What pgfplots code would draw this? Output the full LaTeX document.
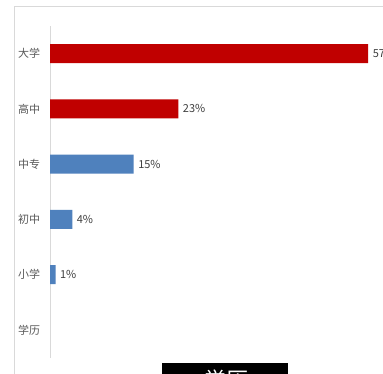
\documentclass[border=0pt]{standalone}
\usepackage{pgfplots}
\pgfplotsset{compat=1.18}
\usepackage{fontspec}
\setmainfont{Noto Sans CJK SC}
\definecolor{barred}{HTML}{C00000}
\definecolor{barblue}{HTML}{4F81BD}
\definecolor{tickgray}{HTML}{595959}
\definecolor{labgray}{HTML}{404040}
\definecolor{framegray}{HTML}{D9D9D9}
\begin{document}
\begin{tikzpicture}[x=1pt,y=1pt]
\useasboundingbox (0,0) rectangle (383,374);
\clip (0,0) rectangle (383,374);
\fill[white] (0,0) rectangle (383,374);
\draw[framegray, line width=1pt] (14,0) -- (14,367) -- (383,367);
\begin{axis}[
  at={(50pt,16.4pt)}, anchor=south west,
  scale only axis, width=335pt, height=331.6pt,
  xmin=0, xmax=60, ymin=-0.5, ymax=5.5,
  hide x axis,
  axis y line*=left,
  y axis line style={draw=framegray, line width=0.8pt, -},
  ytick={0,1,2,3,4,5},
  yticklabels={学历,小学,初中,中专,高中,大学},
  ytick style={draw=none},
  yticklabel style={font=\fontsize{11}{13}\selectfont, text=tickgray, xshift=-2pt},
  /pgf/number format/assume math mode=true,
  xbar, bar width=19pt, bar shift=0pt,
  nodes near coords={\pgfmathprintnumber{\pgfplotspointmeta}\%},
  nodes near coords style={font=\fontsize{11}{13}\selectfont, text=labgray, anchor=west, xshift=1pt, /pgf/number format/assume math mode=true},
  clip=false,
]
\addplot[fill=barred, draw=none] coordinates {(57,5) (23,4)};
\addplot[fill=barblue, draw=none] coordinates {(15,3) (4,2) (1,1)};
\end{axis}
\fill[black] (162,0) rectangle (288,11);
\node[anchor=base, text=white, font=\fontsize{22}{24}\selectfont, inner sep=0pt] at (226,-15) {学历};
\end{tikzpicture}
\end{document}
